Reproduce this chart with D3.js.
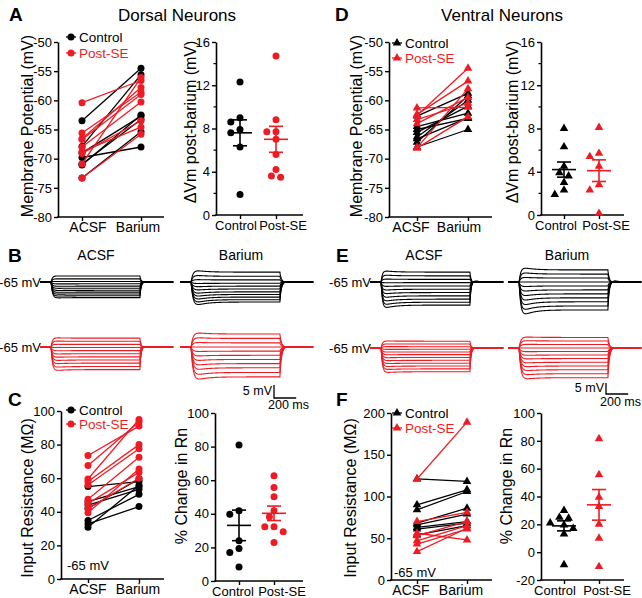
<!DOCTYPE html>
<html><head><meta charset="utf-8">
<script src="https://cdn.jsdelivr.net/npm/d3@7"></script>
<style>body{margin:0;background:#fff}svg{display:block}</style>
</head><body>
<svg id="c" width="642" height="598"></svg>
<script>
const FONT = '"Liberation Sans", Arial, Helvetica, sans-serif';
const RED = "#ed1c24", BLK = "#000000";
const groups = ["Control", "Post-SE"];
const conditions = ["ACSF", "Barium"];

// ---- A: dorsal membrane potential (mV) [ACSF, Barium]
const dorsalVmControl = [[-67.9,-55.6],[-63.5,-54.5],[-71.1,-62.5],[-73.3,-65.4],[-70.9,-63.3],[-69.0,-62.7],[-69.8,-68.0]];
const dorsalVmPostSE  = [[-70.9,-56.1],[-66.6,-57.8],[-66.7,-59.0],[-68.0,-60.3],[-60.4,-56.6],[-65.6,-58.6],[-69.1,-63.5],[-68.8,-64.6],[-73.3,-65.8]];
const dorsalDVmControl = [12.3, 9.0, 8.6, 7.9, 7.6, 6.3, 1.9];
const dorsalDVmPostSE  = [14.7, 8.8, 7.7, 7.7, 7.0, 5.6, 4.2, 3.6, 3.5];
const dorsalDVmMean = [7.6, 7.0];
const dorsalDVmSem  = [1.2, 1.2];

// ---- D: ventral membrane potential (mV)
const ventralVmControl = [[-67.2,-59.2],[-66.3,-60.0],[-65.5,-61.0],[-66.6,-63.0],[-62.7,-58.8],[-68.0,-65.0],[-64.5,-62.2],[-65.0,-63.1]];
const ventralVmPostSE  = [[-62.6,-54.5],[-62.4,-56.7],[-68.2,-62.8],[-64.0,-59.5],[-63.3,-60.5],[-61.3,-61.2],[-68.1,-58.0]];
const ventralDVmControl = [8.0, 6.3, 4.5, 3.9, 3.6, 3.0, 2.3, 1.9];
const ventralDVmPostSE  = [8.1, 5.7, 5.4, 4.5, 2.8, 2.3, 0.15];
const ventralDVmMean = [4.2, 4.1];
const ventralDVmSem  = [0.7, 1.0];

// ---- C: dorsal input resistance (MOhm)
const dorsalRnControl = [[30.8,55.8],[42.0,59.5],[34.8,50.4],[44.0,53.4],[46.0,55.0],[32.8,43.1],[55.0,58.0]];
const dorsalRnPostSE  = [[73.5,91.0],[67.5,93.5],[59.5,95.0],[58.0,80.0],[56.0,77.5],[47.5,72.5],[45.0,63.5],[42.0,60.0],[39.5,65.5]];
const dorsalRnChangeControl = [81, 41.8, 39.8, 23.9, 19.3, 16.9, 8.4];
const dorsalRnChangePostSE  = [62.7, 55.6, 50.2, 41.8, 38.2, 32.3, 32.3, 29.3, 22.9];
const dorsalRnMean = [33.1, 40.3];
const dorsalRnSem  = [9.1, 4.3];

// ---- F: ventral input resistance (MOhm)
const ventralRnControl = [[121,118],[90,108],[84,106],[68,86],[66,79],[63,70],[61,68],[54,65]];
const ventralRnPostSE  = [[121,189],[70,81],[56,48],[47,65],[43,61],[34,62],[53,70]];
const ventralRnChangeControl = [30, 25, 24.4, 21, 19.5, 17, 13, -9];
const ventralRnChangePostSE  = [81.5, 55.6, 39.5, 32.8, 20.1, 10, -10.4];
const ventralRnMean = [18.9, 34];
const ventralRnSem  = [3.6, 11];

// ---- tick values
const vmTicks = [-80,-75,-70,-65,-60,-55,-50];
const dvmTicks = [0,4,8,12,16];
const dvmMinor = [2,6,10,14];
const dorsalRnTicks = [0,20,40,60,80,100];
const ventralRnTicks = [0,50,100,150,200];
const rnChangeTicks = [0,20,40,60,80,100];
const ventralChangeTicks = [-20,0,20,40,60,80,100];

// ---- B/E traces: steady-state step deflection per sweep (mV)
const bAcsfControl = [2.3, 1.2, 0.2, -0.7, -1.6, -2.4, -3.2, -3.9, -4.6, -5.3, -6.0];
const bBariumControl = [3.8, 2.2, 0.8, -0.5, -1.6, -2.7, -3.8, -4.8, -5.8, -6.8, -7.7];
const bAcsfPostSE = [3.4, 2.2, 1.0, -0.2, -1.4, -2.6, -3.8, -5.0, -6.2, -7.5, -8.7];
const bBariumPostSE = [5.0, 3.3, 1.6, 0.0, -1.6, -3.2, -4.8, -6.4, -8.0, -9.8, -11.5];
const eAcsfControl = [4.5, 2.8, 1.2, -0.3, -1.8, -3.3, -4.8, -6.3, -7.8, -9.2, -10.5];
const eBariumControl = [5.5, 3.6, 1.8, 0.0, -1.8, -3.6, -5.4, -7.2, -9.0, -10.9, -12.7];
const eAcsfPostSE = [3.1, 1.8, 0.6, -0.6, -1.8, -3.0, -4.3, -5.6, -6.9, -8.2, -9.5, -10.8];
const eBariumPostSE = [4.8, 3.2, 1.6, 0.0, -1.6, -3.2, -4.8, -6.5, -8.2, -9.9, -11.7, -13.5];
const stepMs = 800;

const svg = d3.select("#c").attr("font-family", FONT);

function txt(x, y, s, o = {}) {
  const t = svg.append("text").attr("x", x).attr("y", y).text(s)
    .attr("font-size", o.size || 14).attr("fill", o.fill || "#000")
    .attr("text-anchor", o.anchor || "start");
  if (o.weight) t.attr("font-weight", o.weight);
  return t;
}
function ytitle(x, y, s, size = 16) {
  svg.append("text").attr("transform", `translate(${x},${y}) rotate(-90)`)
    .attr("text-anchor", "middle").attr("dy", "0.35em").attr("font-size", size).text(s);
}
function styleAxis(g, fs) {
  g.attr("font-family", FONT);
  g.selectAll("path.domain").attr("stroke", "#000").attr("stroke-width", 1.6);
  g.selectAll(".tick line").attr("stroke", "#000").attr("stroke-width", 1.4);
  g.selectAll(".tick text").attr("fill", "#000").attr("font-size", fs);
}
function drawYAxis(x, scale, ticks, minor) {
  const g = svg.append("g").attr("transform", `translate(${x},0)`)
    .call(d3.axisLeft(scale).tickValues(ticks).tickSize(4).tickPadding(2).tickSizeOuter(0).tickFormat(d => String(d)));
  styleAxis(g, 13);
  if (minor) {
    g.selectAll("line.minor").data(minor).enter().append("line").attr("class", "minor")
      .attr("x1", -2.5).attr("x2", 0).attr("y1", d => scale(d)).attr("y2", d => scale(d))
      .attr("stroke", "#000").attr("stroke-width", 1.2);
  }
}
function drawXAxis(y, x0, x1, scale, labelX, fs) {
  const g = svg.append("g").attr("transform", `translate(0,${y})`)
    .call(d3.axisBottom(scale).tickSize(4).tickSizeOuter(0).tickFormat(""));
  g.select("path.domain").remove();
  styleAxis(g, fs);
  svg.append("line").attr("x1", x0 - 0.8).attr("x2", x1).attr("y1", y).attr("y2", y)
    .attr("stroke", "#000").attr("stroke-width", 1.6);
  scale.domain().forEach((d, i) => txt(labelX[i], y + 15, d, { size: fs, anchor: "middle" }));
}
function marker(sel, kind, color) {
  if (kind === "circle") {
    sel.append("circle").attr("r", 3.5).attr("fill", color);
  } else {
    sel.append("path").attr("d", d3.symbol(d3.symbolTriangle).size(32)()).attr("fill", color);
  }
}

function pairedPlot(o) {
  const y = d3.scaleLinear().domain(o.domain).range(o.range);
  const x = d3.scalePoint().domain(conditions).range(o.cat);
  drawYAxis(o.axisX, y, o.ticks);
  drawXAxis(o.range[0], o.axisX, o.xEnd, x, o.labelX, 14);
  [[o.ctrl, BLK], [o.se, RED]].forEach(([data, col]) => {
    const g = svg.append("g");
    g.selectAll("line").data(data).enter().append("line")
      .attr("x1", x("ACSF")).attr("x2", x("Barium"))
      .attr("y1", d => y(d[0])).attr("y2", d => y(d[1]))
      .attr("stroke", col).attr("stroke-width", 1.3);
    data.forEach(d => d.forEach((v, i) => {
      marker(g.append("g").attr("transform", `translate(${x(conditions[i])},${y(v)})`), o.kind, col);
    }));
  });
  groups.forEach((gname, i) => {
    const col = i ? RED : BLK;
    const ly = o.legendY[i];
    svg.append("line").attr("x1", o.legendX - 5).attr("x2", o.legendX + 5).attr("y1", ly).attr("y2", ly)
      .attr("stroke", col).attr("stroke-width", 1.3);
    marker(svg.append("g").attr("transform", `translate(${o.legendX},${ly})`), o.kind, col);
    txt(o.legendX + 8, ly + 4.5, gname, { size: 13.5, fill: i ? RED : "#000" });
  });
  ytitle(o.titleX, o.titleY, o.title);
  if (o.note) txt(o.note[0], o.note[1], "-65 mV", { size: 13 });
}

function swarm(values, y, r, step) {
  const placed = [];
  return values.map(v => {
    const py = y(v);
    let off = 0;
    for (let k = 0; k < 30; k++) {
      const cand = k === 0 ? 0 : (k % 2 ? -1 : 1) * Math.ceil(k / 2) * step;
      if (placed.every(q => Math.hypot(q.x - cand, q.y - py) >= 2 * r + 0.6)) { off = cand; break; }
    }
    const p = { x: off, y: py };
    placed.push(p);
    return p;
  });
}

function dotPlot(o) {
  const y = d3.scaleLinear().domain(o.domain).range(o.range);
  const x = d3.scalePoint().domain(groups).range(o.cat);
  drawYAxis(o.axisX, y, o.ticks, o.minor);
  drawXAxis(o.range[0], o.axisX, o.xEnd, x, o.labelX, 13);
  [o.ctrl, o.se].forEach((vals, gi) => {
    const col = gi ? RED : BLK;
    const pts = swarm(vals, y, 3.4, 4.6);
    pts.forEach(p => marker(svg.append("g").attr("transform", `translate(${x(groups[gi]) + p.x},${p.y})`), o.kind, col));
    const cx = x(groups[gi]), m = o.mean[gi], s = o.sem[gi];
    const g = svg.append("g").attr("stroke", col).attr("stroke-width", 1.6);
    g.append("line").attr("x1", cx - 12).attr("x2", cx + 12).attr("y1", y(m)).attr("y2", y(m));
    g.append("line").attr("x1", cx).attr("x2", cx).attr("y1", y(m + s)).attr("y2", y(m - s));
    [m + s, m - s].forEach(v => g.append("line").attr("x1", cx - 7).attr("x2", cx + 7).attr("y1", y(v)).attr("y2", y(v)));
  });
  ytitle(o.titleX, o.titleY, o.title);
}

// ---------- titles and panel letters
txt(177, 21, "Dorsal Neurons", { size: 17, anchor: "middle" });
txt(502, 21, "Ventral Neurons", { size: 17, anchor: "middle" });
[["A", 9, 21], ["D", 335, 21], ["B", 8, 262], ["E", 336, 262], ["C", 8, 406], ["F", 336, 406]]
  .forEach(([l, x, y]) => txt(x, y, l, { size: 19, weight: "bold" }));

// ---------- A
pairedPlot({ domain: [-80, -50], range: [217, 42], cat: [82, 141], axisX: 58, xEnd: 164, ticks: vmTicks, labelX: [88, 138],
  ctrl: dorsalVmControl, se: dorsalVmPostSE, kind: "circle", legendX: 71, legendY: [37, 53],
  title: "Membrane Potential (mV)", titleX: 27, titleY: 126 });
dotPlot({ domain: [0, 16], range: [215, 42], cat: [240, 276], axisX: 216, xEnd: 303, ticks: dvmTicks, minor: dvmMinor, labelX: [236, 283],
  ctrl: dorsalDVmControl, se: dorsalDVmPostSE, mean: dorsalDVmMean, sem: dorsalDVmSem, kind: "circle",
  title: "\u0394Vm post-barium (mV)", titleX: 190, titleY: 122 });

// ---------- D
pairedPlot({ domain: [-80, -50], range: [217, 42], cat: [417, 468], axisX: 389, xEnd: 492, ticks: vmTicks, labelX: [411, 459],
  ctrl: ventralVmControl, se: ventralVmPostSE, kind: "tri", legendX: 397, legendY: [43, 58],
  title: "Membrane Potential (mV)", titleX: 356, titleY: 126 });
dotPlot({ domain: [0, 16], range: [215, 42], cat: [564, 599], axisX: 541, xEnd: 624, ticks: dvmTicks, minor: dvmMinor, labelX: [556, 606],
  ctrl: ventralDVmControl, se: ventralDVmPostSE, mean: ventralDVmMean, sem: ventralDVmSem, kind: "tri",
  title: "\u0394Vm post-barium (mV)", titleX: 512, titleY: 122 });

// ---------- C
pairedPlot({ domain: [0, 100], range: [579, 411], cat: [88, 139], axisX: 61, xEnd: 164, ticks: dorsalRnTicks, labelX: [88, 138],
  ctrl: dorsalRnControl, se: dorsalRnPostSE, kind: "circle", legendX: 71, legendY: [410, 424],
  title: "Input Resistance (M\u03A9)", titleX: 27, titleY: 498, note: [67, 570] });
dotPlot({ domain: [0, 100], range: [581, 413], cat: [239, 274], axisX: 215, xEnd: 303, ticks: rnChangeTicks, labelX: [233, 282],
  ctrl: dorsalRnChangeControl, se: dorsalRnChangePostSE, mean: dorsalRnMean, sem: dorsalRnSem, kind: "circle",
  title: "% Change in Rn", titleX: 181, titleY: 486 });

// ---------- F
pairedPlot({ domain: [0, 200], range: [580, 413], cat: [417, 467], axisX: 391, xEnd: 492, ticks: ventralRnTicks, labelX: [411, 461],
  ctrl: ventralRnControl, se: ventralRnPostSE, kind: "tri", legendX: 397, legendY: [413, 428],
  title: "Input Resistance (M\u03A9)", titleX: 350, titleY: 498, note: [394, 577] });
dotPlot({ domain: [-20, 100], range: [580, 413], cat: [564, 599], axisX: 541, xEnd: 624, ticks: ventralChangeTicks, labelX: [555, 607],
  ctrl: ventralRnChangeControl, se: ventralRnChangePostSE, mean: ventralRnMean, sem: ventralRnSem, kind: "tri",
  title: "% Change in Rn", titleX: 506, titleY: 486 });

// ---------- B/E traces
function traces(o) {
  const tx = d3.scaleLinear().domain([-100, stepMs + 300]).range([o.x0, o.x0 + 1200 * o.pxPerMs]);
  const vy = d3.scaleLinear().domain([0, 1]).range([o.yBase, o.yBase - o.pxPerMv]);
  const times = d3.range(-100, stepMs + 301, 2);
  const line = d3.line().x(d => tx(d[0])).y(d => vy(d[1]));
  const g = svg.append("g").attr("fill", "none").attr("stroke", o.color).attr("stroke-width", 1.1);
  o.steps.forEach(A => {
    const endV = A * (1 - Math.exp(-stepMs / o.tau)) * (1 + o.sag * Math.exp(-stepMs / 90));
    const pts = times.map(t => {
      let v = 0;
      if (t >= 0 && t <= stepMs) v = A * (1 - Math.exp(-t / o.tau)) * (1 + o.sag * Math.exp(-t / 90));
      else if (t > stepMs) {
        const u = t - stepMs;
        v = endV * Math.exp(-u / o.tau) - A * o.reb * (Math.exp(-u / 45) - Math.exp(-u / 6));
      }
      return [t, v];
    });
    g.append("path").attr("d", line(pts));
  });
  if (o.label) txt(o.x0 + 1, o.yBase + 4.5, "-65 mV", { size: 13, anchor: "end" });
}
const rowB = { pxPerMs: 0.111, pxPerMv: 2.6 };
const rowE = { pxPerMs: 0.111, pxPerMv: 2.2 };
traces({ ...rowB, x0: 40, yBase: 282, steps: bAcsfControl, tau: 12, sag: 0.04, reb: 0.08, color: BLK, label: true });
traces({ ...rowB, x0: 180, yBase: 282, steps: bBariumControl, tau: 18, sag: 0.32, reb: 0.2, color: BLK });
traces({ ...rowB, x0: 40, yBase: 347, steps: bAcsfPostSE, tau: 12, sag: 0.07, reb: 0.1, color: RED, label: true });
traces({ ...rowB, x0: 180, yBase: 347, steps: bBariumPostSE, tau: 18, sag: 0.2, reb: 0.15, color: RED });
traces({ ...rowE, x0: 370, yBase: 282, steps: eAcsfControl, tau: 12, sag: 0.2, reb: 0.15, color: BLK, label: true });
traces({ ...rowE, x0: 508, yBase: 282, steps: eBariumControl, tau: 16, sag: 0.32, reb: 0.2, color: BLK });
traces({ ...rowE, x0: 370, yBase: 348, steps: eAcsfPostSE, tau: 12, sag: 0.06, reb: 0.1, color: RED, label: true });
traces({ ...rowE, x0: 508, yBase: 348, steps: eBariumPostSE, tau: 16, sag: 0.1, reb: 0.12, color: RED });

txt(96, 260, "ACSF", { size: 14, anchor: "middle" });
txt(241, 260, "Barium", { size: 14, anchor: "middle" });
txt(424, 260, "ACSF", { size: 14, anchor: "middle" });
txt(567, 260, "Barium", { size: 14, anchor: "middle" });

function scaleBar(x, yBottom, row, labelY1, labelY2) {
  const h = 5 * row.pxPerMv, w = 200 * row.pxPerMs;
  svg.append("path").attr("d", `M${x},${yBottom - h}V${yBottom}H${x + w}`)
    .attr("fill", "none").attr("stroke", "#000").attr("stroke-width", 1.3);
  txt(x - 2, labelY1, "5 mV", { size: 12.5, anchor: "end" });
  txt(x - 6, labelY2, "200 ms", { size: 12.5 });
}
scaleBar(274, 398, rowB, 395, 409);
scaleBar(606, 394, rowE, 392, 406);
</script>
</body></html>
